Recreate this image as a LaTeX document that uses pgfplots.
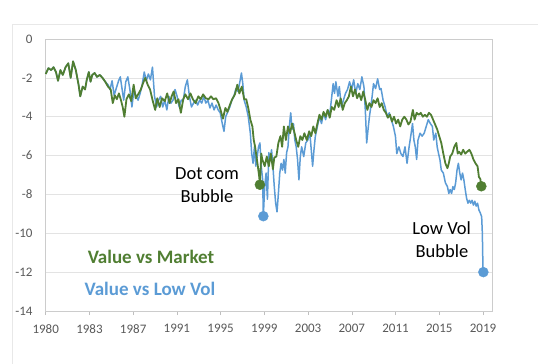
\documentclass[border=0pt]{standalone}
\usepackage{fontspec}
\setmainfont{Carlito}
\usepackage{pgfplots}
\usepackage{pgfplotstable}
\pgfplotsset{compat=1.18}
\definecolor{vgreen}{HTML}{507E32}
\definecolor{vblue}{HTML}{5B9BD5}
\definecolor{ticktext}{HTML}{595959}

\pgfplotstableread{
px v
132 -1.8
140 -1.5
148 -1.6
155 -1.45
162 -1.7
168 -2.15
175 -1.6
182 -1.85
190 -1.45
198 -1.25
205 -2.0
212 -1.15
220 -1.6
228 -2.35
233 -2.95
240 -2.45
247 -2.6
252 -2.1
258 -1.7
263 -2.2
268 -1.85
275 -1.75
282 -1.95
290 -1.85
298 -2.0
306 -2.2
314 -2.45
322 -2.6
328 -3.3
334 -2.9
340 -3.1
346 -2.8
352 -3.15
357 -3.5
362 -4.0
368 -3.1
375 -2.85
382 -3.2
389 -2.35
395 -3.05
402 -2.85
410 -2.6
417 -2.25
423 -2.0
430 -2.35
437 -2.6
445 -3.2
452 -3.65
458 -3.05
465 -3.5
472 -3.05
480 -3.2
487 -2.8
494 -3.3
500 -2.95
506 -2.7
513 -3.3
520 -3.1
527 -3.8
534 -3.1
540 -2.85
548 -3.1
555 -2.8
562 -3.1
570 -3.3
578 -2.95
585 -3.1
592 -2.85
600 -3.05
608 -3.1
615 -2.95
622 -3.1
630 -3.05
637 -3.3
643 -3.65
650 -4.1
657 -3.55
663 -3.75
670 -3.4
677 -3.1
685 -2.85
692 -2.35
698 -2.8
705 -2.45
712 -3.1
718 -3.1
724 -3.55
730 -4.15
736 -4.5
740 -5.2
744 -5.55
748 -6.05
752 -6.55
756 -7.1
758 -7.5
762 -5.9
765 -6.2
772 -6.55
778 -6.05
784 -6.55
790 -5.9
796 -6.7
800 -6.1
806 -6.05
812 -5.35
818 -5.0
823 -5.55
828 -4.5
834 -5.2
840 -4.5
846 -4.85
852 -4.35
858 -4.75
864 -5.2
870 -5.55
876 -5.0
882 -5.2
888 -4.85
895 -5.2
902 -4.75
908 -5.0
914 -4.5
920 -4.85
926 -4.35
932 -3.9
938 -4.15
944 -3.75
950 -4.0
956 -3.65
962 -4.05
968 -3.5
975 -3.65
982 -3.15
988 -3.5
994 -3.05
1000 -3.65
1006 -3.3
1012 -3.15
1018 -2.95
1024 -2.45
1030 -2.95
1036 -2.6
1042 -3.05
1048 -2.8
1054 -3.15
1060 -2.7
1066 -3.15
1072 -3.65
1078 -3.3
1084 -3.5
1090 -3.15
1096 -3.3
1102 -3.05
1108 -3.5
1114 -3.3
1120 -3.65
1126 -3.8
1132 -4.05
1138 -3.9
1144 -4.25
1150 -4.0
1156 -4.35
1162 -4.15
1168 -4.5
1174 -4.15
1180 -4.0
1186 -4.15
1192 -4.4
1198 -4.25
1205 -3.65
1210 -4.15
1216 -3.8
1222 -3.9
1228 -3.8
1234 -4.0
1240 -3.9
1246 -4.0
1252 -3.8
1258 -3.9
1264 -4.15
1270 -4.4
1276 -4.65
1282 -5.0
1288 -5.35
1294 -5.9
1300 -6.4
1306 -6.65
1310 -6.4
1314 -6.05
1320 -5.9
1326 -5.55
1332 -5.35
1336 -5.9
1340 -5.8
1346 -5.95
1352 -5.7
1358 -5.9
1364 -5.8
1370 -5.7
1376 -5.9
1382 -6.2
1388 -6.4
1394 -6.55
1398 -7.1
1402 -7.2
1405 -7.58
}\greentab

\pgfplotstableread{
px v
132 -1.8
140 -1.5
148 -1.6
155 -1.45
162 -1.7
168 -2.15
175 -1.6
182 -1.85
190 -1.45
198 -1.25
205 -2.0
212 -1.15
220 -1.6
228 -2.35
233 -2.95
240 -2.45
247 -2.6
252 -2.1
258 -1.7
263 -2.2
268 -1.85
275 -1.75
282 -1.95
290 -1.85
298 -2.0
306 -2.2
314 -2.35
320 -2.6
326 -2.15
332 -2.9
338 -2.55
345 -2.15
350 -1.95
355 -2.55
360 -3.15
366 -2.2
372 -1.95
378 -2.6
384 -3.5
390 -2.6
396 -2.95
402 -3.15
408 -2.8
414 -2.35
420 -1.7
426 -2.15
432 -1.8
438 -2.1
444 -1.45
450 -2.95
456 -3.5
462 -3.15
468 -2.95
474 -3.5
480 -3.15
486 -3.65
492 -2.95
498 -3.3
504 -3.15
510 -2.6
516 -2.95
522 -3.5
528 -3.15
534 -3.15
540 -2.45
546 -2.1
552 -2.95
558 -3.5
564 -3.3
570 -3.15
576 -3.4
582 -3.15
588 -3.3
594 -2.95
600 -3.3
606 -3.15
612 -3.55
618 -3.3
624 -3.65
630 -3.4
636 -3.65
642 -3.8
648 -4.35
653 -4.75
658 -4.0
664 -3.75
670 -3.5
676 -3.15
682 -2.95
688 -2.55
694 -2.7
700 -2.15
704 -1.75
708 -2.3
712 -3.15
718 -3.5
724 -4.0
730 -4.85
734 -5.9
738 -6.4
742 -5.55
746 -6.55
750 -6.05
754 -5.55
758 -5.35
762 -6.55
766 -7.25
768 -9.12
772 -7.6
776 -6.9
780 -8.25
784 -5.85
788 -6.2
792 -5.7
796 -6.55
800 -7.6
804 -8.45
808 -8.9
812 -7.95
816 -6.9
820 -6.4
824 -6.75
828 -6.2
832 -6.9
836 -5.85
840 -5.55
844 -4.5
848 -3.8
852 -4.65
856 -4.35
860 -5.2
864 -5.55
868 -6.2
872 -7.25
876 -6.05
880 -5.55
886 -6.05
892 -5.35
898 -5.2
904 -4.85
908 -5.7
912 -6.55
916 -5.7
920 -5.0
926 -4.5
932 -4.0
938 -4.35
944 -3.8
950 -4.15
956 -3.65
962 -3.9
968 -2.95
972 -2.3
976 -2.8
980 -2.2
986 -2.95
990 -2.45
996 -3.5
1002 -3.15
1008 -2.8
1014 -2.6
1020 -2.2
1026 -2.6
1032 -2.1
1038 -2.8
1044 -2.3
1050 -2.6
1056 -1.95
1062 -2.45
1066 -3.65
1070 -5.35
1074 -4.65
1078 -4.0
1082 -3.5
1086 -2.95
1090 -2.3
1096 -2.55
1102 -2.05
1108 -2.6
1112 -2.55
1118 -3.15
1124 -3.5
1130 -4.0
1136 -3.8
1142 -4.15
1148 -4.5
1154 -5.0
1158 -5.9
1164 -5.55
1170 -5.9
1176 -6.05
1182 -5.55
1188 -6.4
1194 -5.55
1200 -4.85
1204 -4.35
1208 -5.2
1212 -5.55
1216 -6.2
1220 -5.2
1226 -4.85
1232 -5.0
1238 -4.85
1244 -4.5
1250 -4.15
1256 -4.35
1262 -4.5
1266 -5.2
1272 -4.85
1276 -5.55
1280 -5.9
1284 -6.2
1288 -6.75
1294 -6.9
1300 -7.4
1306 -7.6
1310 -7.95
1314 -7.75
1318 -7.95
1322 -7.6
1326 -7.75
1330 -7.4
1334 -6.75
1338 -6.4
1342 -6.9
1346 -7.25
1350 -6.9
1354 -7.25
1358 -7.75
1362 -8.2
1366 -8.45
1370 -8.3
1374 -8.45
1378 -8.3
1382 -8.55
1386 -8.35
1390 -8.6
1394 -8.45
1398 -8.8
1402 -8.95
1406 -9.15
1408 -10.0
1410 -12.0
}\bluetab

\begin{document}
\begin{tikzpicture}
\useasboundingbox (0pt,0pt) rectangle (538pt,364pt);
\draw[gray!18, line width=0.8pt] (12pt,0pt) -- (12pt,340pt) -- (538pt,340pt);
\begin{axis}[
  at={(45.7pt,53pt)}, anchor=south west,
  scale only axis, width=446.3pt, height=272pt,
  xmin=1980, xmax=2019.8, ymin=-14, ymax=0,
  xtick={1980,1983.9,1987.8,1991.7,1995.6,1999.5,2003.4,2007.3,2011.2,2015.1,2019},
  xticklabels={1980,1983,1987,1991,1995,1999,2003,2007,2011,2015,2019},
  ytick={-14,-12,-10,-8,-6,-4,-2,0},
  ymajorgrids, grid style={gray!22, line width=0.6pt},
  axis line style={gray!40, line width=0.8pt},
  xtick pos=bottom, ytick pos=left, tick align=outside,
  major tick length=4pt,
  xtick style={gray!50, line width=0.6pt},
  ytick style={draw=none},
  tick label style={font=\fontsize{13}{15}\selectfont, text=ticktext, inner sep=0pt},
  xticklabel shift=9pt,
  yticklabel shift=9pt,
  /pgf/number format/assume math mode=true,
  clip=false,
]
\addplot[vblue, line width=1.5pt, line join=round] table[x expr=1980+(\thisrow{px}-132)*0.0305164, y=v] {\bluetab};
\addplot[vgreen, line width=1.8pt, line join=round] table[x expr=1980+(\thisrow{px}-132)*0.0305164, y=v] {\greentab};
\addplot[only marks, mark=*, mark size=5pt, vblue] coordinates {(1999.41,-9.12) (2019.03,-12.0)};
\addplot[only marks, mark=*, mark size=5pt, vgreen] coordinates {(1999.10,-7.5) (2018.85,-7.58)};
\end{axis}
\node[font=\fontsize{18.5}{22}\selectfont, inner sep=0pt] at (207pt,190.7pt) {Dot com};
\node[font=\fontsize{18.5}{22}\selectfont, inner sep=0pt] at (207pt,168pt) {Bubble};
\node[font=\fontsize{18.5}{22}\selectfont, inner sep=0pt] at (441.7pt,135.7pt) {Low Vol};
\node[font=\fontsize{18.5}{22}\selectfont, inner sep=0pt] at (442pt,113pt) {Bubble};
\node[font=\bfseries\fontsize{19}{22}\selectfont, text=vgreen, inner sep=0pt] at (151pt,106.7pt) {Value vs Market};
\node[font=\bfseries\fontsize{19}{22}\selectfont, text=vblue, inner sep=0pt] at (150pt,74.7pt) {Value vs Low Vol};
\end{tikzpicture}
\end{document}
